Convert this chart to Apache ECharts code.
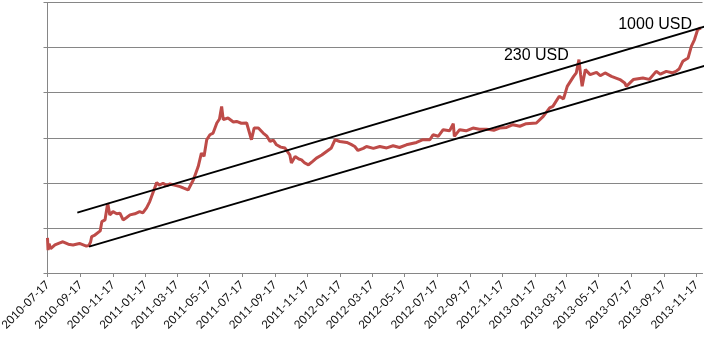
<!DOCTYPE html>
<html>
<head>
<meta charset="utf-8">
<script src="https://cdn.jsdelivr.net/npm/echarts@6/dist/echarts.min.js"></script>
<style>
html,body{margin:0;padding:0;background:#fff;}
#chart{width:708px;height:343px;}
</style>
</head>
<body>
<div id="chart"></div>
<script>
// ---- data (log-scale price in USD) ----
const priceDates = [
  '2010-07-17','2010-07-18','2010-07-20','2010-07-23','2010-07-31','2010-08-08','2010-08-15','2010-08-25','2010-09-03','2010-09-15','2010-09-28',
  '2010-10-03','2010-10-06','2010-10-08','2010-10-14','2010-10-24','2010-10-27','2010-11-02','2010-11-07',
  '2010-11-11','2010-11-17','2010-11-24','2010-11-30','2010-12-06','2010-12-12','2010-12-19','2010-12-28','2011-01-06','2011-01-12','2011-01-19','2011-01-25',
  '2011-01-31','2011-02-07','2011-02-12','2011-02-19','2011-02-26','2011-03-04','2011-03-14','2011-03-23','2011-03-30','2011-04-07','2011-04-17','2011-04-26',
  '2011-05-02','2011-05-07','2011-05-12','2011-05-18','2011-05-24','2011-05-31','2011-06-05','2011-06-09','2011-06-12','2011-06-21',
  '2011-07-01','2011-07-07','2011-07-16','2011-07-26','2011-08-04','2011-08-09','2011-08-17','2011-08-26','2011-09-02','2011-09-08','2011-09-14','2011-09-20',
  '2011-09-28','2011-10-06','2011-10-15','2011-10-18','2011-10-25','2011-11-01','2011-11-06','2011-11-12','2011-11-19','2011-11-27','2011-12-04','2011-12-14','2011-12-23',
  '2012-01-01','2012-01-08','2012-01-17','2012-01-30','2012-02-07','2012-02-14','2012-02-20','2012-03-01','2012-03-07','2012-03-20','2012-04-01',
  '2012-04-14','2012-04-26','2012-05-08','2012-05-21','2012-06-09','2012-06-21','2012-07-04','2012-07-10','2012-07-20','2012-07-29','2012-08-10','2012-08-17',
  '2012-08-19','2012-08-29','2012-09-10','2012-09-23','2012-10-05','2012-10-18','2012-11-01','2012-11-12','2012-11-25','2012-12-07','2012-12-20','2013-01-01','2013-01-20',
  '2013-02-02','2013-02-14','2013-02-20','2013-03-04','2013-03-12','2013-03-19','2013-03-31','2013-04-05','2013-04-10','2013-04-13','2013-04-16',
  '2013-04-22','2013-05-01','2013-05-13','2013-05-20','2013-05-29','2013-06-10','2013-06-26','2013-07-05','2013-07-08','2013-07-21',
  '2013-08-08','2013-08-20','2013-09-02','2013-09-10','2013-09-21','2013-10-02','2013-10-09','2013-10-15','2013-10-22','2013-11-01','2013-11-07','2013-11-13',
  '2013-11-19','2013-11-25'
];
const priceValues = [
  0.079,0.045,0.060,0.048,0.057,0.062,0.066,0.059,0.057,0.061,0.054,
  0.056,0.066,0.084,0.090,0.109,0.167,0.181,0.392,
  0.228,0.265,0.24,0.247,0.181,0.20,0.228,0.24,0.265,0.25,0.315,0.421,
  0.63,1.01,0.90,0.98,0.88,0.95,0.89,0.84,0.78,0.72,1.15,2.12,
  3.94,3.4,7.3,9.19,9.93,15.8,19,34,18.4,19.9,
  16.5,17.0,15.6,15.8,7.3,12.5,12.5,9.93,8.6,6.74,7.2,5.78,
  5.2,4.97,3.65,2.49,3.37,3.0,2.89,2.5,2.30,2.7,3.13,3.6,4.25,
  5.0,7.3,6.74,6.44,5.9,5.35,4.45,4.9,5.35,4.9,5.35,
  5.0,5.52,5.1,5.78,6.44,7.3,7.3,9.19,8.6,11.6,11.0,15.3,
  8.5,11.6,11.0,12.5,11.8,11.9,11.3,12.5,12.9,14.6,13.6,15.3,15.8,
  21.4,31.6,34,54.4,48,85.7,136,160,294,150,85.7,
  185,147,163,140,159,136,117,100,85.7,117,
  126,118,171,150,171,160,171,190,272,318,543,741,
  1175,1273
];
// trend channel lines (start / end)
const upperDates = ['2010-09-11','2013-12-08'];
const upperValues = [0.2535,1414];
const lowerDates = ['2010-10-03','2013-12-08'];
const lowerValues = [0.0527,230];
// annotations
const noteTexts = ['230 USD','1000 USD'];
const noteDates = ['2013-01-20','2013-08-31'];
const noteValues = [362,1448];
// x-axis tick labels
const tickDates = [
  '2010-07-17','2010-09-17','2010-11-17','2011-01-17','2011-03-17','2011-05-17','2011-07-17',
  '2011-09-17','2011-11-17','2012-01-17','2012-03-17','2012-05-17','2012-07-17','2012-09-17',
  '2012-11-17','2013-01-17','2013-03-17','2013-05-17','2013-07-17','2013-09-17','2013-11-17'
];
const xStart = '2010-07-17';
const xEnd = '2013-11-28';

// ---- helpers ----
function t(s){ const p = s.split('-').map(Number); return Date.UTC(p[0], p[1]-1, p[2]); }
function pad(n){ return (n<10?'0':'')+n; }
function fmt(v){ const d = new Date(v); return d.getUTCFullYear()+'-'+pad(d.getUTCMonth()+1)+'-'+pad(d.getUTCDate()); }
function pairs(ds, vs){ return ds.map((d,i)=>[t(d), vs[i]]); }

const chart = echarts.init(document.getElementById('chart'), null, {renderer:'canvas'});
const tickVals = tickDates.map(t);
chart.setOption({
  animation:false,
  backgroundColor:'#ffffff',
  grid:{left:47.5, right:5.5, top:2.5, bottom:70, containLabel:false, outerBoundsMode:'none'},
  xAxis:{
    type:'value',
    min:t(xStart), max:t(xEnd),
    axisLine:{show:true, lineStyle:{color:'#868686', width:1}},
    axisTick:{show:true, length:4, lineStyle:{color:'#868686'}, customValues:tickVals},
    axisLabel:{show:true, rotate:45, margin:10, color:'#111', fontFamily:'Lato', fontSize:11.5,
      customValues:tickVals, formatter:(v)=>fmt(v), hideOverlap:false, showMinLabel:true, showMaxLabel:true},
    splitLine:{show:false}
  },
  yAxis:{
    type:'log', logBase:8,
    min:1/64, max:4096, splitNumber:6,
    axisLine:{show:true, lineStyle:{color:'#868686', width:1}},
    axisTick:{show:true, inside:false, length:4, lineStyle:{color:'#868686'}},
    axisLabel:{show:false},
    splitLine:{show:true, lineStyle:{color:'#868686', width:1}}
  },
  series:[
    {
      type:'line', name:'price', data:pairs(priceDates, priceValues),
      showSymbol:false, symbol:'none',
      lineStyle:{color:'#BE4B48', width:3}, z:2
    },
    {
      type:'line', name:'upper', data:pairs(upperDates, upperValues),
      showSymbol:false, symbol:'none', clip:false,
      lineStyle:{color:'#000', width:1.8}, z:3
    },
    {
      type:'line', name:'lower', data:pairs(lowerDates, lowerValues),
      showSymbol:false, symbol:'none', clip:false,
      lineStyle:{color:'#000', width:1.8}, z:3
    },
    {
      type:'scatter', name:'notes', symbolSize:0, clip:false,
      itemStyle:{opacity:1},
      data:noteDates.map((d,i)=>({value:[t(d), noteValues[i]], name:noteTexts[i]})),
      label:{show:true, position:'inside', formatter:(p)=>p.name, color:'#000', opacity:1,
        textBorderWidth:0, textBorderColor:'transparent',
        fontFamily:'Liberation Sans', fontSize:16},
      z:4
    }
  ]
});
</script>
</body>
</html>
